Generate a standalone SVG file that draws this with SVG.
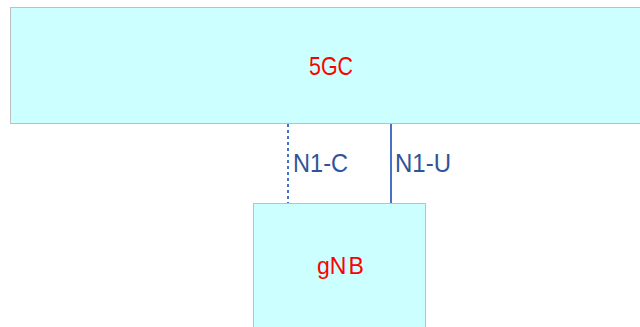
<svg xmlns="http://www.w3.org/2000/svg" width="640" height="327" viewBox="0 0 640 327">
<style>
.node{fill:#CCFFFF;stroke:#BFBFBF;stroke-width:1}
.nt{font-family:"Liberation Sans",Arial,sans-serif;fill:#FF0000}
.lt{font-family:"Liberation Sans",Arial,sans-serif;font-size:25px;fill:#2F5597}
.c{stroke:#4472C4;stroke-width:2;fill:none}
</style>
<rect width="640" height="327" fill="#FFFFFF"/>
<g id="n5gc">
<rect class="node" x="10.5" y="7.5" width="640" height="116"/>
<text class="nt" x="309" y="75" font-size="26" textLength="44" lengthAdjust="spacingAndGlyphs">5GC</text>
</g>
<g id="ngnb">
<rect class="node" x="253.5" y="203.5" width="172" height="130"/>
<text class="nt" x="317" y="274" font-size="23">gN<tspan dx="2">B</tspan></text>
</g>
<g id="connectors">
<line class="c" x1="288" y1="124" x2="288" y2="203" stroke-dasharray="3,3"/>
<line class="c" x1="391" y1="124" x2="391" y2="203"/>
<text class="lt" x="293" y="172" textLength="55" lengthAdjust="spacingAndGlyphs">N1-C</text>
<text class="lt" x="395" y="172" textLength="56" lengthAdjust="spacingAndGlyphs">N1-U</text>
</g>
</svg>
